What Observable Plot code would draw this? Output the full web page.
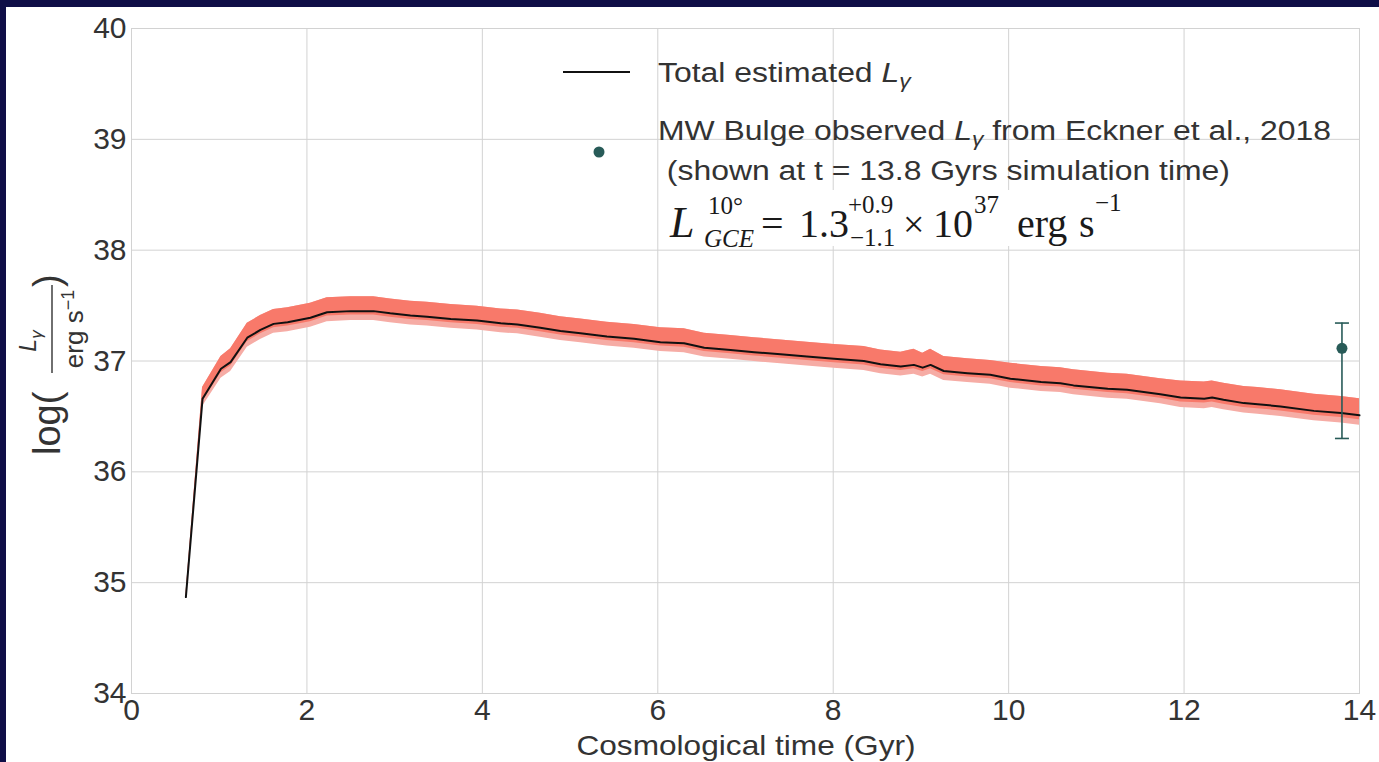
<!DOCTYPE html>
<html>
<head>
<meta charset="utf-8">
<script src="https://cdn.jsdelivr.net/npm/d3@7"></script>
<script src="https://cdn.jsdelivr.net/npm/@observablehq/plot@0.6"></script>
<style>
  html, body { margin: 0; padding: 0; background: #0f0e47; }
  body { width: 1379px; height: 762px; position: relative; overflow: hidden; }
  #panel { position: absolute; left: 6px; top: 7px; width: 1373px; height: 755px; background: #fff; }
  #chart { position: absolute; left: 0; top: 0; }
</style>
</head>
<body>
<div id="panel"></div>
<div id="chart"></div>
<script>
// Cosmological time (Gyr) of each simulation snapshot
const times = [0.62, 0.81, 1.02, 1.13, 1.32, 1.47, 1.62, 1.78, 2.04, 2.23,
  2.50, 2.76, 2.95, 3.18, 3.37, 3.64, 3.94, 4.21, 4.40, 4.66,
  4.89, 5.12, 5.42, 5.73, 6.03, 6.30, 6.53, 6.83, 7.10, 7.40,
  7.70, 8.01, 8.35, 8.54, 8.77, 8.92, 9.02, 9.11, 9.26, 9.53,
  9.79, 10.02, 10.37, 10.59, 10.74, 11.13, 11.35, 11.73, 11.96, 12.23,
  12.32, 12.45, 12.68, 12.84, 13.10, 13.48, 13.79, 14.00];

// Total estimated gamma-ray luminosity, log10(L / erg s^-1)
const logLum = [34.87, 36.66, 36.93, 36.99, 37.21, 37.28, 37.335, 37.35, 37.39, 37.44,
  37.45, 37.45, 37.43, 37.41, 37.40, 37.38, 37.365, 37.34, 37.33, 37.30,
  37.27, 37.25, 37.22, 37.20, 37.17, 37.16, 37.12, 37.10, 37.08, 37.06,
  37.04, 37.02, 37.00, 36.97, 36.95, 36.965, 36.94, 36.965, 36.91, 36.89,
  36.875, 36.84, 36.81, 36.80, 36.78, 36.75, 36.74, 36.70, 36.67, 36.66,
  36.67, 36.65, 36.62, 36.61, 36.59, 36.55, 36.53, 36.51];

// Spread of the estimate around the total (dex): above, and below (inner / outer)
const bandUp = [0.02, 0.10, 0.11, 0.12, 0.13, 0.13, 0.13, 0.13, 0.13, 0.13,
  0.13, 0.13, 0.13, 0.13, 0.13, 0.13, 0.13, 0.13, 0.13, 0.13,
  0.13, 0.13, 0.13, 0.13, 0.13, 0.13, 0.13, 0.13, 0.13, 0.13,
  0.13, 0.13, 0.13, 0.13, 0.13, 0.14, 0.13, 0.14, 0.13, 0.13,
  0.13, 0.14, 0.14, 0.14, 0.14, 0.14, 0.14, 0.14, 0.15, 0.15,
  0.15, 0.15, 0.15, 0.15, 0.15, 0.15, 0.15, 0.15];
const bandDownInner = [0.01, 0.03, 0.035, 0.035, 0.035, 0.035, 0.035, 0.035, 0.035, 0.035,
  0.035, 0.035, 0.035, 0.035, 0.035, 0.035, 0.035, 0.035, 0.035, 0.035,
  0.035, 0.035, 0.035, 0.035, 0.035, 0.035, 0.035, 0.035, 0.035, 0.035,
  0.035, 0.035, 0.035, 0.035, 0.035, 0.035, 0.035, 0.035, 0.035, 0.035,
  0.035, 0.035, 0.035, 0.035, 0.035, 0.035, 0.035, 0.035, 0.04, 0.04,
  0.04, 0.04, 0.04, 0.04, 0.04, 0.04, 0.04, 0.04];
const bandDownOuter = [0.02, 0.07, 0.085, 0.085, 0.085, 0.085, 0.085, 0.085, 0.085, 0.085,
  0.085, 0.085, 0.085, 0.085, 0.085, 0.085, 0.085, 0.085, 0.085, 0.085,
  0.085, 0.085, 0.085, 0.085, 0.085, 0.085, 0.085, 0.085, 0.085, 0.085,
  0.085, 0.085, 0.085, 0.085, 0.085, 0.085, 0.085, 0.085, 0.085, 0.085,
  0.085, 0.085, 0.085, 0.085, 0.085, 0.085, 0.085, 0.085, 0.09, 0.09,
  0.09, 0.09, 0.09, 0.09, 0.09, 0.09, 0.09, 0.09];

// Observed Milky Way bulge value: 1.3 (+0.9 / -1.1) x 10^37 erg/s, placed at 13.8 Gyr
const obsTime = 13.8;
const obsMantissa = 1.3;
const obsPlus = 0.9;
const obsMinus = 1.1;
const obsExponent = 37;

const xTicks = [0, 2, 4, 6, 8, 10, 12, 14];
const yTicks = [34, 35, 36, 37, 38, 39, 40];

const rows = times.map((t, i) => ({
  t,
  v: logLum[i],
  hi: logLum[i] + bandUp[i],
  loIn: logLum[i] - bandDownInner[i],
  loOut: logLum[i] - bandDownOuter[i]
}));

const obs = {
  t: obsTime,
  v: Math.log10(obsMantissa) + obsExponent,
  hi: Math.log10(obsMantissa + obsPlus) + obsExponent,
  lo: Math.log10(obsMantissa - obsMinus) + obsExponent
};
const caps = [{t: obs.t, y: obs.lo}, {t: obs.t, y: obs.hi}];

const teal = "#285b58";
const gridColor = "#d2d2d2";
const textColor = "#333333";

// horizontal bar used as error-bar cap
const capSymbol = {
  draw(ctx, size) {
    const r = Math.sqrt(size / Math.PI);
    ctx.moveTo(-r, 0);
    ctx.lineTo(r, 0);
  }
};

const svgNode = Plot.plot({
  width: 1379,
  height: 762,
  marginLeft: 131,
  marginRight: 20,
  marginTop: 28,
  marginBottom: 69,
  style: {background: "transparent", fontFamily: "'Liberation Sans', Arial, sans-serif", color: textColor},
  x: {domain: [0, 14]},
  y: {domain: [34, 40]},
  marks: [
    Plot.gridX(xTicks, {stroke: gridColor, strokeOpacity: 1, strokeWidth: 1}),
    Plot.gridY(yTicks, {stroke: gridColor, strokeOpacity: 1, strokeWidth: 1}),
    Plot.frame({stroke: gridColor}),
    Plot.areaY(rows, {x: "t", y1: "loOut", y2: "hi", fill: "#f6aca5"}),
    Plot.areaY(rows, {x: "t", y1: "loIn", y2: "hi", fill: "#f8796a"}),
    Plot.line(rows, {x: "t", y: "v", stroke: "#111", strokeWidth: 2}),
    Plot.ruleX([obs], {x: "t", y1: "lo", y2: "hi", stroke: teal, strokeWidth: 1.6}),
    Plot.dot(caps, {x: "t", y: "y", symbol: capSymbol, r: 7, stroke: teal, strokeWidth: 1.6, fill: "none"}),
    Plot.dot([obs], {x: "t", y: "v", r: 5.5, fill: teal}),
    Plot.axisX(xTicks, {tickSize: 0, tickPadding: 5, fontSize: 30, tickFormat: d => String(d), label: null}),
    Plot.axisY(yTicks, {tickSize: 0, tickPadding: 5, fontSize: 30, tickFormat: d => String(d), label: null})
  ]
});
document.getElementById("chart").appendChild(svgNode);
const svg = d3.select(svgNode);

const sans = "'Liberation Sans', Arial, sans-serif";
const serif = "'Liberation Serif', 'Times New Roman', serif";

// x-axis title
svg.append("text")
  .attr("transform", "translate(746,755) scale(1.13,1)")
  .attr("text-anchor", "middle")
  .attr("font-family", sans).attr("font-size", 28).attr("fill", textColor)
  .text("Cosmological time (Gyr)");

// y-axis title: log( L_γ / erg s^-1 )
const yl = svg.append("g")
  .attr("transform", "translate(60,455) rotate(-90)")
  .attr("font-family", sans).attr("fill", textColor);
yl.append("text").attr("x", 0).attr("y", 0).attr("font-size", 38).attr("text-anchor", "start").text("log(");
yl.append("line").attr("x1", 82).attr("x2", 170).attr("y1", -8).attr("y2", -8)
  .attr("stroke", textColor).attr("stroke-width", 1.4);
const num = yl.append("text").attr("x", 114).attr("y", -24).attr("font-size", 23).attr("text-anchor", "middle");
num.append("tspan").attr("font-style", "italic").text("L");
num.append("tspan").attr("font-style", "italic").attr("font-size", 17).attr("dy", 6).text("γ");
const den = yl.append("text").attr("x", 126).attr("y", 23).attr("font-size", 26).attr("text-anchor", "middle");
den.append("tspan").text("erg s");
den.append("tspan").attr("font-size", 18).attr("dy", -9).text("−1");
yl.append("text").attr("x", 168).attr("y", 0).attr("font-size", 38).attr("text-anchor", "start").text(")");

// legend
const lg = svg.append("g").attr("font-family", sans).attr("fill", textColor).attr("text-anchor", "start");
lg.append("line").attr("x1", 563).attr("x2", 630).attr("y1", 72).attr("y2", 72)
  .attr("stroke", "#111").attr("stroke-width", 2);
const t1 = lg.append("text").attr("transform", "translate(658,82) scale(1.14,1)").attr("font-size", 28);
t1.append("tspan").text("Total estimated ");
t1.append("tspan").attr("font-style", "italic").text("L");
t1.append("tspan").attr("font-style", "italic").attr("font-size", 20).attr("dy", 6).text("γ");

lg.append("circle").attr("cx", 599).attr("cy", 152).attr("r", 5.5).attr("fill", teal);
const t2 = lg.append("text").attr("transform", "translate(658,140) scale(1.14,1)").attr("font-size", 28);
t2.append("tspan").text("MW Bulge observed ");
t2.append("tspan").attr("font-style", "italic").text("L");
t2.append("tspan").attr("font-style", "italic").attr("font-size", 20).attr("dy", 6).text("γ");
t2.append("tspan").attr("dy", -6).text(" from Eckner et al., 2018");
lg.append("text").attr("transform", "translate(658,180) scale(1.14,1)").attr("font-size", 28)
  .text(" (shown at t = 13.8 Gyrs simulation time)");

// typeset luminosity value
const fm = svg.append("g").attr("font-family", serif).attr("fill", "#1a1a1a").attr("text-anchor", "start");
fm.append("rect").attr("x", 664).attr("y", 190).attr("width", 488).attr("height", 56).attr("fill", "#fff");
const base = 237, sup = 214, sub = 247;
function piece(x, y, size, str, italic) {
  fm.append("text").attr("x", x).attr("y", y).attr("font-size", size)
    .attr("font-style", italic ? "italic" : "normal").text(str);
}
piece(670, base, 44, "L", true);
piece(708, sup, 25, "10°", false);
piece(704, sub, 25, "GCE", true);
piece(761, base, 40, "=", false);
piece(799, base, 40, "1.3", false);
piece(848, sup - 1, 25, "+0.9", false);
piece(850, sub - 1, 25, "−1.1", false);
piece(903, base, 38, "×", false);
piece(933, base, 40, "10", false);
piece(974, sup - 1, 25, "37", false);
piece(1017, base, 40, "erg", false);
piece(1079, base, 40, "s", false);
piece(1095, sup - 3, 25, "−1", false);
</script>
</body>
</html>
